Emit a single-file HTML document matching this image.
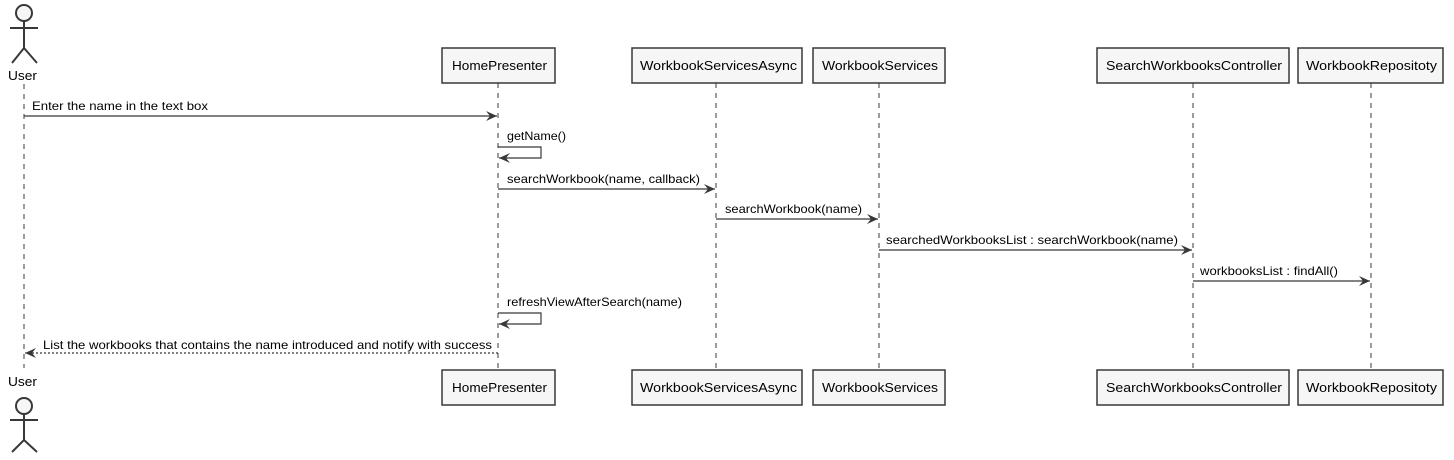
<!DOCTYPE html>
<html><head><style>html,body{margin:0;padding:0;background:#fff}svg{display:block}</style></head>
<body>
<svg width="1454" height="460" xmlns="http://www.w3.org/2000/svg" font-family="Liberation Sans, sans-serif">
<defs>
<marker id="a" markerWidth="12" markerHeight="10" refX="11" refY="5" orient="auto" markerUnits="userSpaceOnUse"><path d="M0,0 L11,5 L0,10 L4,5 Z" fill="#383838"/></marker>
</defs>
<g stroke="#383838" stroke-width="1" stroke-dasharray="5,5" fill="none">
<line x1="24" y1="84" x2="24" y2="368"/>
<line x1="498" y1="83" x2="498" y2="370"/>
<line x1="716" y1="83" x2="716" y2="370"/>
<line x1="879" y1="83" x2="879" y2="370"/>
<line x1="1193" y1="83" x2="1193" y2="370"/>
<line x1="1371" y1="83" x2="1371" y2="370"/>
</g>
<g fill="#f6f6f6" stroke="#383838" stroke-width="1.5">
<rect x="442" y="48" width="113" height="35"/><rect x="632" y="48" width="170" height="35"/><rect x="813" y="48" width="132" height="35"/><rect x="1097" y="48" width="192" height="35"/><rect x="1298" y="48" width="145" height="35"/>
<rect x="442" y="370" width="113" height="35"/><rect x="632" y="370" width="170" height="35"/><rect x="813" y="370" width="132" height="35"/><rect x="1097" y="370" width="192" height="35"/><rect x="1298" y="370" width="145" height="35"/>
</g>
<g font-size="13" fill="#000" lengthAdjust="spacingAndGlyphs">
<text x="452" y="70" textLength="95" lengthAdjust="spacingAndGlyphs">HomePresenter</text>
<text x="640" y="70" textLength="157" lengthAdjust="spacingAndGlyphs">WorkbookServicesAsync</text>
<text x="822" y="70" textLength="116" lengthAdjust="spacingAndGlyphs">WorkbookServices</text>
<text x="1106" y="70" textLength="176" lengthAdjust="spacingAndGlyphs">SearchWorkbooksController</text>
<text x="1306" y="70" textLength="131" lengthAdjust="spacingAndGlyphs">WorkbookRepositoty</text>
<text x="452" y="392" textLength="95" lengthAdjust="spacingAndGlyphs">HomePresenter</text>
<text x="640" y="392" textLength="157" lengthAdjust="spacingAndGlyphs">WorkbookServicesAsync</text>
<text x="822" y="392" textLength="116" lengthAdjust="spacingAndGlyphs">WorkbookServices</text>
<text x="1106" y="392" textLength="176" lengthAdjust="spacingAndGlyphs">SearchWorkbooksController</text>
<text x="1306" y="392" textLength="131" lengthAdjust="spacingAndGlyphs">WorkbookRepositoty</text>
<text x="8" y="80" textLength="29" lengthAdjust="spacingAndGlyphs">User</text>
<text x="8" y="386" textLength="29" lengthAdjust="spacingAndGlyphs">User</text>
</g>
<g stroke="#383838" stroke-width="2" fill="#f6f6f6">
<circle cx="24" cy="13" r="8"/><line x1="24" y1="21" x2="24" y2="48"/><line x1="10" y1="28" x2="38" y2="28"/><polyline points="12,63 24,48 37,63" fill="none"/>
<circle cx="24" cy="406" r="8"/><line x1="24" y1="414" x2="24" y2="440"/><line x1="10" y1="420" x2="38" y2="420"/><polyline points="12,452 24,440 37,452" fill="none"/>
</g>
<g stroke="#383838" stroke-width="1.2" fill="none" marker-end="url(#a)">
<line x1="24" y1="116" x2="497" y2="116"/>
<polyline points="498,147 541,147 541,158 499,158"/>
<line x1="498" y1="189" x2="715" y2="189"/>
<line x1="716" y1="219" x2="878" y2="219"/>
<line x1="879" y1="250" x2="1192" y2="250"/>
<line x1="1193" y1="281" x2="1370" y2="281"/>
<polyline points="498,313 541,313 541,324 499,324"/>
<line x1="498" y1="353" x2="25" y2="353" stroke-dasharray="2,2"/>
</g>
<g font-size="12" fill="#000">
<text x="32" y="110" textLength="176" lengthAdjust="spacingAndGlyphs">Enter the name in the text box</text>
<text x="507" y="140" textLength="59" lengthAdjust="spacingAndGlyphs">getName()</text>
<text x="507" y="183" textLength="193" lengthAdjust="spacingAndGlyphs">searchWorkbook(name, callback)</text>
<text x="725" y="213" textLength="137" lengthAdjust="spacingAndGlyphs">searchWorkbook(name)</text>
<text x="886" y="244" textLength="292" lengthAdjust="spacingAndGlyphs">searchedWorkbooksList : searchWorkbook(name)</text>
<text x="1200" y="275" textLength="138" lengthAdjust="spacingAndGlyphs">workbooksList : findAll()</text>
<text x="507" y="306" textLength="175" lengthAdjust="spacingAndGlyphs">refreshViewAfterSearch(name)</text>
<text x="43" y="349" textLength="449" lengthAdjust="spacingAndGlyphs">List the workbooks that contains the name introduced and notify with success</text>
</g>
</svg>
</body></html>
